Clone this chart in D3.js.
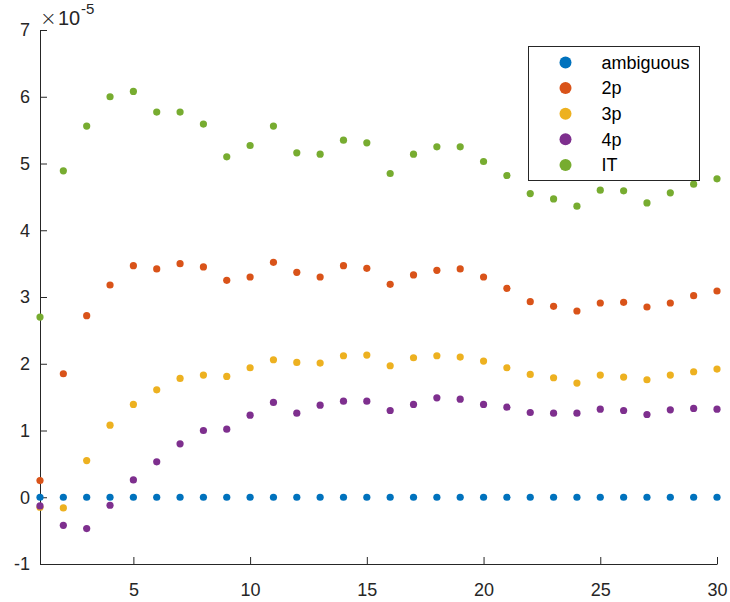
<!DOCTYPE html>
<html>
<head>
<meta charset="utf-8">
<script src="https://cdn.jsdelivr.net/npm/d3@7"></script>
<style>
  body { margin: 0; background: #fff; }
  svg { font-family: "Liberation Sans", Arial, Helvetica, sans-serif; }
</style>
</head>
<body>
<svg id="chart" width="730" height="602"></svg>
<script>
// values in units of 1e-5, x = 1..30
const xs = d3.range(1, 31);
const seriesNames = ["ambiguous", "2p", "3p", "4p", "IT"];
const seriesColors = ["#0072BD", "#D95319", "#EDB120", "#7E2F8E", "#77AC30"];

const ambiguous = xs.map(() => 0);
const p2 = [0.25, 1.85, 2.72, 3.18, 3.47, 3.42, 3.50, 3.45, 3.25, 3.30,
            3.52, 3.37, 3.30, 3.47, 3.43, 3.19, 3.33, 3.40, 3.42, 3.30,
            3.13, 2.93, 2.86, 2.79, 2.91, 2.92, 2.85, 2.91, 3.02, 3.09];
const p3 = [-0.15, -0.16, 0.55, 1.08, 1.39, 1.61, 1.78, 1.83, 1.81, 1.94,
            2.06, 2.02, 2.01, 2.12, 2.13, 1.97, 2.09, 2.12, 2.10, 2.04,
            1.94, 1.84, 1.79, 1.71, 1.83, 1.80, 1.76, 1.83, 1.88, 1.92];
const p4 = [-0.13, -0.42, -0.47, -0.12, 0.26, 0.53, 0.80, 1.00, 1.02, 1.23,
            1.42, 1.26, 1.38, 1.44, 1.44, 1.30, 1.39, 1.49, 1.47, 1.39,
            1.35, 1.27, 1.26, 1.26, 1.32, 1.30, 1.24, 1.31, 1.33, 1.32];
const it = [2.70, 4.89, 5.56, 6.00, 6.08, 5.77, 5.77, 5.59, 5.10, 5.27,
            5.56, 5.16, 5.14, 5.35, 5.31, 4.85, 5.14, 5.25, 5.25, 5.03,
            4.82, 4.55, 4.47, 4.36, 4.60, 4.59, 4.41, 4.56, 4.69, 4.77];
const seriesValues = [ambiguous, p2, p3, p4, it];

const xTicks = [5, 10, 15, 20, 25, 30];
const yTicks = [-1, 0, 1, 2, 3, 4, 5, 6, 7];

const svg = d3.select("#chart");
const margin = { left: 40, right: 13, top: 30, bottom: 38 };
const W = 730, H = 602;

const x = d3.scaleLinear().domain([1, 30]).range([margin.left, W - margin.right]);
const y = d3.scaleLinear().domain([-1, 7]).range([H - margin.bottom, margin.top]);

const axisColor = "#262626";
const fmt = d => String(d);

// x axis (ticks point inward)
const xAxis = svg.append("g")
    .attr("transform", `translate(0,${y(-1)})`)
    .call(d3.axisBottom(x).tickValues(xTicks).tickFormat(fmt)
        .tickSizeInner(-7).tickSizeOuter(0).tickPadding(19));
// y axis
const yAxis = svg.append("g")
    .attr("transform", `translate(${x(1)},0)`)
    .call(d3.axisLeft(y).tickValues(yTicks).tickFormat(fmt)
        .tickSizeInner(-7).tickSizeOuter(0).tickPadding(10));

[xAxis, yAxis].forEach(g => {
    g.select(".domain").attr("stroke", axisColor).attr("stroke-width", 1);
    g.selectAll(".tick line").attr("stroke", axisColor);
    g.selectAll(".tick text")
        .attr("fill", axisColor)
        .style("font-size", "18px")
        .style("font-family", "'Liberation Sans', Arial, sans-serif");
});

// exponent label (x10^-5)
const expo = svg.append("g").attr("fill", axisColor);
expo.append("text").attr("x", 40).attr("y", 25)
    .style("font-size", "20px").style("font-family", "'DejaVu Sans', sans-serif")
    .style("font-weight", "200").text("\u00d7");
expo.append("text").attr("x", 58).attr("y", 25)
    .style("font-size", "20px").text("10");
expo.append("text").attr("x", 81).attr("y", 14)
    .style("font-size", "15px").text("-5");

// points
const plot = svg.append("g");
seriesValues.forEach((vals, si) => {
    plot.selectAll(null)
        .data(vals.map((v, i) => ({ x: xs[i], y: v })))
        .enter()
        .append("circle")
        .attr("cx", d => x(d.x))
        .attr("cy", d => y(d.y))
        .attr("r", 3.6)
        .attr("fill", seriesColors[si]);
});

// legend
const legend = svg.append("g").attr("transform", "translate(528.5,46.5)");
legend.append("rect")
    .attr("width", 171)
    .attr("height", 134)
    .attr("fill", "#fff")
    .attr("stroke", axisColor)
    .attr("stroke-width", 1);
seriesNames.forEach((name, i) => {
    const row = legend.append("g").attr("transform", `translate(0,${16 + i * 25.6})`);
    row.append("circle").attr("cx", 37).attr("cy", 0).attr("r", 6).attr("fill", seriesColors[i]);
    row.append("text")
        .attr("x", 73)
        .attr("y", 0)
        .attr("dy", "0.35em")
        .attr("fill", "#000")
        .style("font-size", "18px")
        .text(name);
});
</script>
</body>
</html>
